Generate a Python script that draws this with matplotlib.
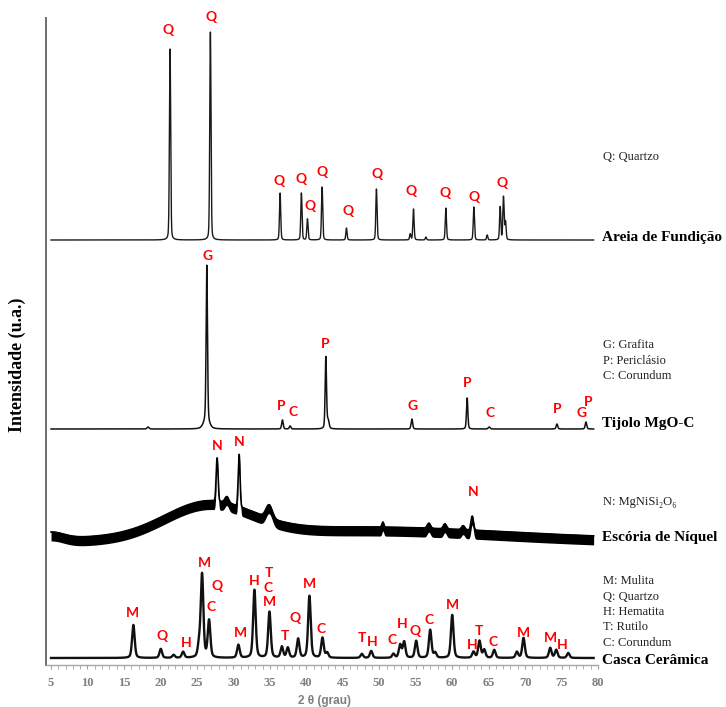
import numpy as np
import matplotlib.pyplot as plt
from matplotlib.ticker import MultipleLocator

# --- peak tables: 2-theta position, height above trace baseline, FWHM (deg) ---
areia_pos = [21.32, 26.85, 36.41, 39.33, 40.16, 42.17, 45.51, 49.62, 54.25, 54.70,
             56.40, 59.14, 62.98, 64.81, 66.59, 67.04, 67.32]
areia_h = [191, 208, 47, 47, 21, 53, 12, 51, 6, 31, 3, 32, 33, 5, 33, 43, 18]
areia_w = 0.2
areia_base = 425

tijolo_pos = [18.3, 26.3, 26.36, 36.73, 37.78, 42.68, 43.0, 54.48, 62.06, 65.08, 74.37, 78.35]
tijolo_h = [2, 8, 156, 9, 3, 72, 8, 10, 31, 2, 5, 7]
tijolo_w = [0.3, 0.9, 0.22, 0.25, 0.25, 0.22, 0.3, 0.25, 0.22, 0.3, 0.25, 0.25]
tijolo_base = 236

# slag: amorphous humps (wide entries) plus the few crystalline reflections
escoria_pos = [5.0, 26.5, 48.0, 27.77, 29.1, 30.79, 34.9, 50.5, 56.8, 59.0, 61.5, 62.75]
escoria_h = [6, 32, 12, 43, 6, 52, 13, 5, 5, 5, 4, 14]
escoria_w = [4.0, 14.0, 45.0, 0.3, 0.6, 0.3, 1.0, 0.3, 0.5, 0.5, 0.5, 0.4]
escoria_base = 122

casca_pos = [16.29, 20.05, 21.8, 23.11, 25.3, 25.71, 26.67, 30.69, 32.89, 34.95, 36.65,
             37.47, 38.88, 40.43, 42.22, 42.86, 47.62, 48.90, 51.95, 52.87, 53.42, 55.07,
             56.99, 57.67, 60.01, 62.93, 63.75, 64.40, 65.77, 68.88, 69.79, 73.45, 74.27,
             75.92]
casca_h = [33, 9, 3, 6, 12, 83, 37, 13, 68, 46, 11, 10, 19, 62, 20, 5, 4, 7, 4, 13, 16,
           17, 28, 5, 43, 6, 17, 8, 8, 6, 20, 10, 8, 5]
casca_w = 0.42
casca_base = 7

# peak labels: (letter, 2-theta, height)
areia_lbl = [('Q', 21.05, 635), ('Q', 26.95, 648), ('Q', 36.28, 484), ('Q', 39.29, 486),
             ('Q', 40.53, 459), ('Q', 42.17, 493), ('Q', 45.74, 454), ('Q', 49.72, 491),
             ('Q', 54.38, 474), ('Q', 59.05, 472), ('Q', 63.02, 468), ('Q', 66.87, 482)]
tijolo_lbl = [('G', 26.4, 409), ('P', 36.55, 259), ('C', 38.2, 253), ('P', 42.59, 321),
              ('G', 54.52, 259), ('P', 62.06, 282), ('C', 65.22, 252), ('P', 74.41, 256),
              ('G', 77.7, 252), ('P', 78.66, 263)]
escoria_lbl = [('N', 27.77, 219), ('N', 30.79, 223), ('N', 62.89, 173)]
casca_lbl = [('M', 16.11, 52), ('Q', 20.23, 29), ('H', 23.52, 22), ('M', 25.99, 102),
             ('C', 26.95, 58), ('Q', 27.77, 79), ('M', 30.93, 32), ('H', 32.85, 84),
             ('C', 34.77, 77), ('T', 34.90, 92), ('M', 34.90, 63), ('T', 37.10, 29),
             ('Q', 38.47, 47), ('M', 40.39, 81), ('C', 42.04, 36), ('T', 47.66, 27),
             ('H', 49.03, 23), ('C', 51.78, 25), ('H', 53.15, 41), ('Q', 54.93, 34),
             ('C', 56.85, 45), ('M', 60.01, 60), ('H', 62.76, 20), ('T', 63.72, 34),
             ('C', 65.63, 23), ('M', 69.75, 32), ('M', 73.45, 27), ('H', 75.10, 20)]

names = ['Areia de Fundição', 'Tijolo MgO-C', 'Escória de Níquel', 'Casca Cerâmica']
name_y = [428, 241, 128, 4]
legends = [(['Q: Quartzo'], 508),
           (['G: Grafita', 'P: Periclásio', 'C: Corundum'], 320),
           (['N: MgNiSi₂O₆'], 163),
           (['M: Mulita', 'Q: Quartzo', 'H: Hematita', 'T: Rutilo', 'C: Corundum'], 84)]

two_theta = np.linspace(5, 79.4, 6000)


def profile(pos, h, w, eta=0.35):
    # pseudo-Voigt sum of the tabulated reflections
    w = np.broadcast_to(w, len(pos))
    y = np.zeros_like(two_theta)
    for p, a, fw in zip(pos, h, w):
        d = (two_theta - p) / (fw / 2)
        y += a * (eta / (1 + d**2) + (1 - eta) * np.exp(-np.log(2) * d**2))
    return y


fig = plt.figure(figsize=(7.26, 7.07), dpi=100)
ax = fig.add_axes([46 / 726, 42 / 707, 552 / 726, 647 / 707])

ax.plot(two_theta, areia_base + profile(areia_pos, areia_h, areia_w, 0.25), color='#1a1a1a', lw=1.0)
ax.plot(two_theta, tijolo_base + profile(tijolo_pos, tijolo_h, tijolo_w, 0.3), color='#111111', lw=1.1)

# the slag pattern is a dense, noisy band: draw it as a filled strip
esc = escoria_base + profile(escoria_pos, escoria_h, escoria_w, 0.0)
ax.fill_between(two_theta, esc - 5, esc + 5, color='black', lw=0)
ax.plot(two_theta, esc + 4, color='black', lw=1.2)

ax.plot(two_theta, casca_base + profile(casca_pos, casca_h, casca_w, 0.4), color='#111111', lw=1.7)

lbl_font = dict(color='#ff0000', fontsize=10, fontweight='bold', family='Lato',
                ha='center', va='center')
for group in (areia_lbl, tijolo_lbl, escoria_lbl, casca_lbl):
    for letter, x, y in group:
        ax.text(x, y, letter, **lbl_font)

for name, y in zip(names, name_y):
    ax.text(80.5, y, name, fontsize=11, fontweight='bold', family='Liberation Serif',
            ha='left', va='center', clip_on=False)

for lines, y0 in legends:
    for i, line in enumerate(lines):
        ax.text(80.75, y0 - i * 15.5, line, fontsize=9, family=['Liberation Serif', 'DejaVu Serif'],
                ha='left', va='center', color='#222222', clip_on=False)

ax.set_xlim(4.31, 80)
ax.set_ylim(0, 647)
ax.set_yticks([])
ax.xaxis.set_major_locator(MultipleLocator(5))
ax.xaxis.set_minor_locator(MultipleLocator(1))
ax.tick_params(axis='x', which='both', direction='out', length=3, color='#a0a0a0',
               labelcolor='#7f7f7f', pad=6)
for lab in ax.get_xticklabels():
    lab.set_family('Liberation Serif')
    lab.set_fontweight('bold')
    lab.set_fontsize(9)

for side in ('top', 'right'):
    ax.spines[side].set_visible(False)
ax.spines['left'].set_color('#6e6e6e')
ax.spines['left'].set_linewidth(1.4)
ax.spines['bottom'].set_color('#a6a6a6')
ax.spines['bottom'].set_linewidth(1.0)

fig.text(324 / 726, 1 - 701 / 707, '2 θ (grau)', fontsize=8.5, fontweight='bold',
         color='#7f7f7f', family='Liberation Sans', ha='center', va='center')
fig.text(17 / 726, 1 - 365 / 707, 'Intensidade (u.a.)', fontsize=13, fontweight='bold',
         family='Liberation Serif', rotation=90, ha='center', va='center')

fig.savefig('out.png', dpi=100)
